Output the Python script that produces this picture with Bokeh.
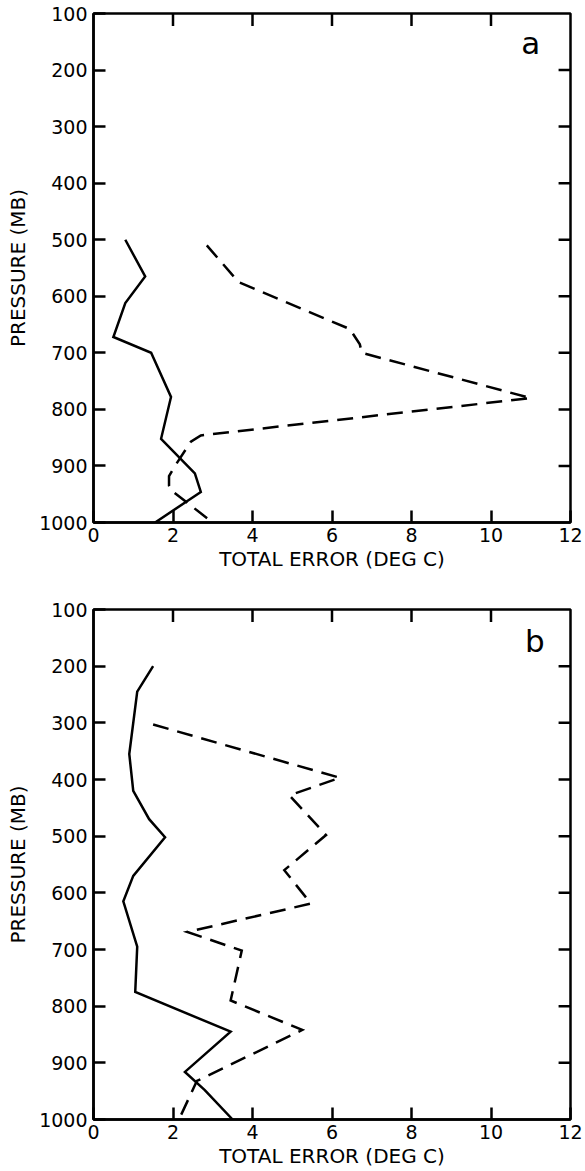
from bokeh.plotting import figure
from bokeh.models import Range1d, FixedTicker, Label
from bokeh.layouts import column
from bokeh.embed import file_html
from bokeh.resources import INLINE

# ---- data ----
x_ticks = [0, 2, 4, 6, 8, 10, 12]
x_inner_ticks = [2, 4, 6, 8, 10]
p_ticks = [100, 200, 300, 400, 500, 600, 700, 800, 900, 1000]
p_inner_ticks = [200, 300, 400, 500, 600, 700, 800, 900]

a_solid_err = [0.8, 1.3, 0.8, 0.5, 1.45, 1.95, 1.7, 2.55, 2.7, 1.55]
a_solid_p = [500, 565, 612, 672, 700, 778, 852, 913, 946, 1000]
a_dash_err = [2.85, 3.65, 6.45, 6.7, 6.75, 11.0, 2.7, 2.45, 2.05, 1.9, 1.9, 1.95, 3.0]
a_dash_p = [510, 575, 658, 685, 700, 780, 846, 857, 900, 918, 935, 943, 1000]

b_solid_err = [1.5, 1.1, 0.9, 1.0, 1.4, 1.8, 1.0, 0.75, 1.1, 1.05, 3.45, 2.3, 2.8, 3.5]
b_solid_p = [200, 245, 355, 420, 470, 502, 570, 615, 695, 775, 845, 916, 948, 1000]
b_dash_err = [1.5, 6.2, 4.93, 5.85, 4.8, 5.47, 2.36, 3.73, 3.45, 5.25, 2.6, 2.15]
b_dash_p = [303, 397, 428, 498, 560, 619, 669, 702, 790, 842, 932, 1000]

x_label = "TOTAL ERROR (DEG C)"
y_label = "PRESSURE (MB)"

FONT = "DejaVu Sans"
X_MIN, X_MAX = 0, 12
P_BOTTOM, P_TOP = 1000, 100
TICK_LEN_P = 22      # inward tick length on top edge, in mb (~12 px)
TICK_LEN_X = 0.30    # inward tick length on right edge, in deg C (~12 px)
NAN = float("nan")


def style_axis(ax):
    ax.axis_line_width = 2.5
    ax.axis_line_color = "black"
    ax.major_tick_in = 12
    ax.major_tick_out = 0
    ax.major_tick_line_width = 2.5
    ax.major_tick_line_color = "black"
    ax.minor_tick_in = 0
    ax.minor_tick_out = 0
    ax.major_label_text_font = FONT
    ax.major_label_text_color = "black"
    ax.major_label_text_font_size = "19px"
    ax.axis_label_text_font = FONT
    ax.axis_label_text_font_style = "normal"
    ax.axis_label_text_font_size = "20px"
    ax.axis_label_text_color = "black"


def make_panel(solid_x, solid_y, dash_x, dash_y, tag, tag_x, tag_y,
               height, top, left, right, bottom):
    p = figure(width=585, height=height,
               x_range=Range1d(X_MIN, X_MAX), y_range=Range1d(P_BOTTOM, P_TOP),
               output_backend="svg", toolbar_location=None,
               min_border_left=left, min_border_right=right,
               min_border_top=top, min_border_bottom=bottom)
    p.grid.visible = False
    p.outline_line_color = "black"
    p.outline_line_width = 2.5
    p.background_fill_color = "white"
    p.border_fill_color = "white"

    xa = p.xaxis[0]
    xa.ticker = FixedTicker(ticks=x_ticks)
    xa.axis_label = x_label
    style_axis(xa)
    xa.major_label_standoff = 5
    xa.axis_label_standoff = 2

    ya = p.yaxis[0]
    ya.ticker = FixedTicker(ticks=p_ticks)
    ya.axis_label = y_label
    style_axis(ya)
    ya.major_label_standoff = 6
    ya.axis_label_standoff = 6

    # inward ticks on the top and right edges, as one broken line each
    tx, ty = [], []
    for t in x_inner_ticks:
        tx += [t, t, NAN]
        ty += [P_TOP, P_TOP + TICK_LEN_P, NAN]
    p.line(tx, ty, line_color="black", line_width=2.5)
    rx, ry = [], []
    for t in p_inner_ticks:
        rx += [X_MAX, X_MAX - TICK_LEN_X, NAN]
        ry += [t, t, NAN]
    p.line(rx, ry, line_color="black", line_width=2.5)

    p.line(solid_x, solid_y, line_color="black", line_width=2.5, line_join="miter")
    p.line(dash_x, dash_y, line_color="black", line_width=2.5,
           line_dash="16 9", line_join="miter")

    p.add_layout(Label(x=tag_x, y=tag_y, text=tag, text_font=FONT,
                       text_font_size="31px", text_align="center",
                       text_baseline="alphabetic", text_color="black"))
    return p


pa = make_panel(a_solid_err, a_solid_p, a_dash_err, a_dash_p, "a", 11.0, 152,
                height=575, top=13, left=89, right=15, bottom=53)
pb = make_panel(b_solid_err, b_solid_p, b_dash_err, b_dash_p, "b", 11.1, 155,
                height=596, top=34, left=93, right=8, bottom=52)

layout = column(pa, pb, spacing=0)
open("out.html", "w").write(file_html(layout, INLINE))
